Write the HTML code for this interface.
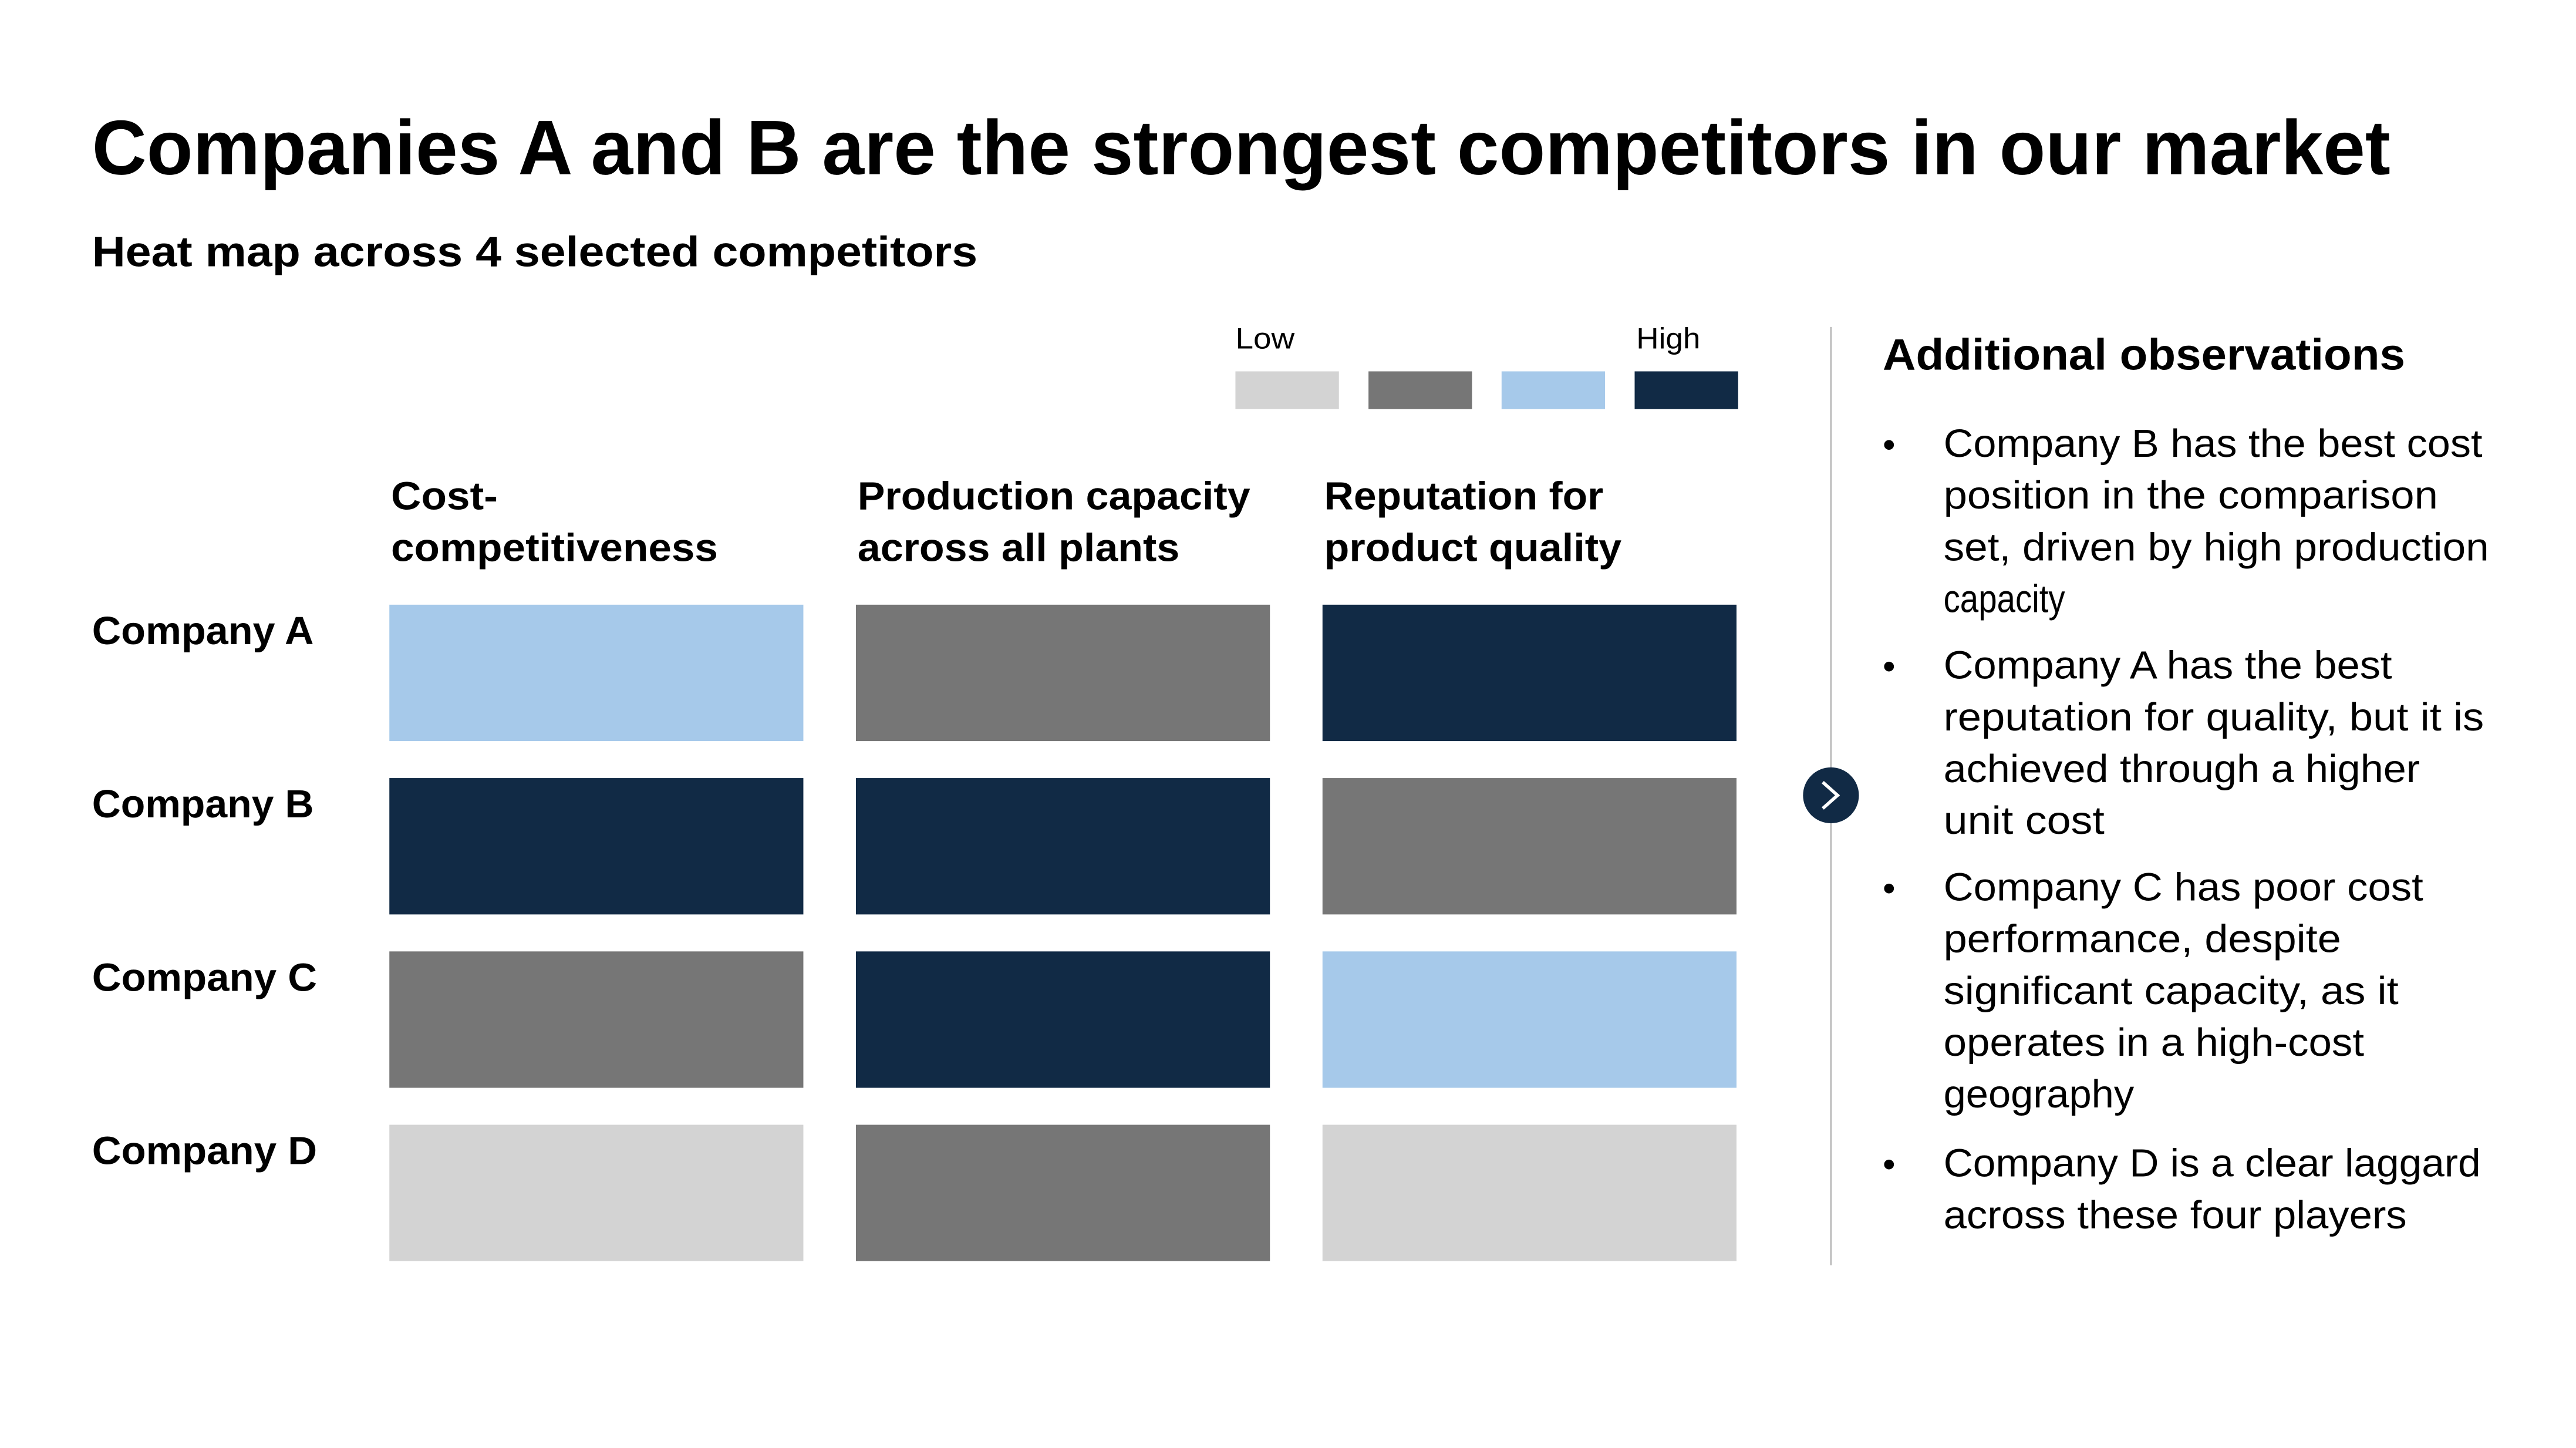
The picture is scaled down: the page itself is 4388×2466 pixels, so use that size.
<!DOCTYPE html>
<html><head><meta charset="utf-8"><style>
html,body{margin:0;padding:0;background:#fff;}
svg{display:block;font-family:"Liberation Sans",sans-serif;}
</style></head><body>
<svg id="s" width="4388" height="2466" viewBox="0 0 1568 881.2" preserveAspectRatio="none" xmlns="http://www.w3.org/2000/svg">
<rect width="1570" height="885" fill="#fff"/>
<text x="56" y="106" font-size="47" font-weight="bold" textLength="1399" lengthAdjust="spacingAndGlyphs">Companies A and B are the strongest competitors in our market</text>
<text x="56" y="162" font-size="26" font-weight="bold" textLength="539" lengthAdjust="spacingAndGlyphs">Heat map across 4 selected competitors</text>
<text x="752" y="212" font-size="18" textLength="36" lengthAdjust="spacingAndGlyphs">Low</text>
<text x="996" y="212" font-size="18" textLength="39" lengthAdjust="spacingAndGlyphs">High</text>
<g id="legend"></g>
<g id="heads"></g>
<g id="rows"></g>
<g id="cells"></g>
<line x1="1114.5" y1="199" x2="1114.5" y2="770" stroke="#c0c0c0" stroke-width="1.2"/>
<g>
<circle cx="1114.5" cy="484" r="17" fill="#112a45"/>
<path d="M1109.5 476 L1118.5 484 L1109.5 492" fill="none" stroke="#fff" stroke-width="2"/>
</g>
<text x="1146" y="225" font-size="27" font-weight="bold" textLength="318" lengthAdjust="spacingAndGlyphs">Additional observations</text>
<g id="obs"></g>
</svg>
<script>
const NS="http://www.w3.org/2000/svg";
const categories=["Cost-competitiveness","Production capacity across all plants","Reputation for product quality"];
const companies=["Company A","Company B","Company C","Company D"];
const valuesCost=[3,4,2,1];
const valuesCapacity=[2,4,4,2];
const valuesReputation=[4,2,3,1];
const levelLabels=["Low","","","High"];
const series=[valuesCost,valuesCapacity,valuesReputation];
const palette={1:"#d3d3d3",2:"#767676",3:"#a6c9ea",4:"#112a45"};
function mk(tag,attrs,parent){const e=document.createElementNS(NS,tag);for(const k in attrs)e.setAttribute(k,attrs[k]);parent.appendChild(e);return e;}
function txt(parent,x,y,size,w,s,bold){const t=mk("text",{x:x,y:y,"font-size":size,textLength:w,lengthAdjust:"spacingAndGlyphs"},parent);if(bold)t.setAttribute("font-weight","bold");t.textContent=s;return t;}
const xCol=i=>237+i*284;
const yRow=j=>368+j*105.5;
const colW=252, rowH=83;
const lg=document.getElementById("legend");
[1,2,3,4].forEach((v,i)=>{const r=mk("rect",{x:752+i*81,y:226,width:63,height:23,fill:palette[v]},lg);

});
const heads=document.getElementById("heads");
const headLines=[["Cost-","competitiveness"],["Production capacity","across all plants"],["Reputation for","product quality"]];
const headW=[[65,199],[239,196],[170,181]];
headLines.forEach((ls,i)=>ls.forEach((l,k)=>{const t=txt(heads,xCol(i)+1,310+k*31.5,24,headW[i][k],l,true);

}));
const rows=document.getElementById("rows");
const rowW=[135,135,137,137];
companies.forEach((c,j)=>{const t=txt(rows,56,yRow(j)+24,24,rowW[j],c,true);

});
const cells=document.getElementById("cells");
series.forEach((vals,i)=>vals.forEach((v,j)=>{const r=mk("rect",{x:xCol(i),y:yRow(j),width:colW,height:rowH,fill:palette[v]},cells);

}));
const obs=document.getElementById("obs");
const bullets=[
 [["Company B has the best cost",328],["position in the comparison",301],["set, driven by high production",332],["capacity",74]],
 [["Company A has the best",273],["reputation for quality, but it is",329],["achieved through a higher",290],["unit cost",98]],
 [["Company C has poor cost",292],["performance, despite",242],["significant capacity, as it",277],["operates in a high-cost",256],["geography",116]],
 [["Company D is a clear laggard",327],["across these four players",282]]];
const bStart=[278,413,548,716];
bullets.forEach((b,i)=>{const d=mk("text",{x:1146,y:bStart[i],"font-size":22},obs);d.textContent="•";


b.forEach((l,k)=>{const t=txt(obs,1183,bStart[i]+k*31.5,24,l[1],l[0],false);

});});
</script>
</body></html>
